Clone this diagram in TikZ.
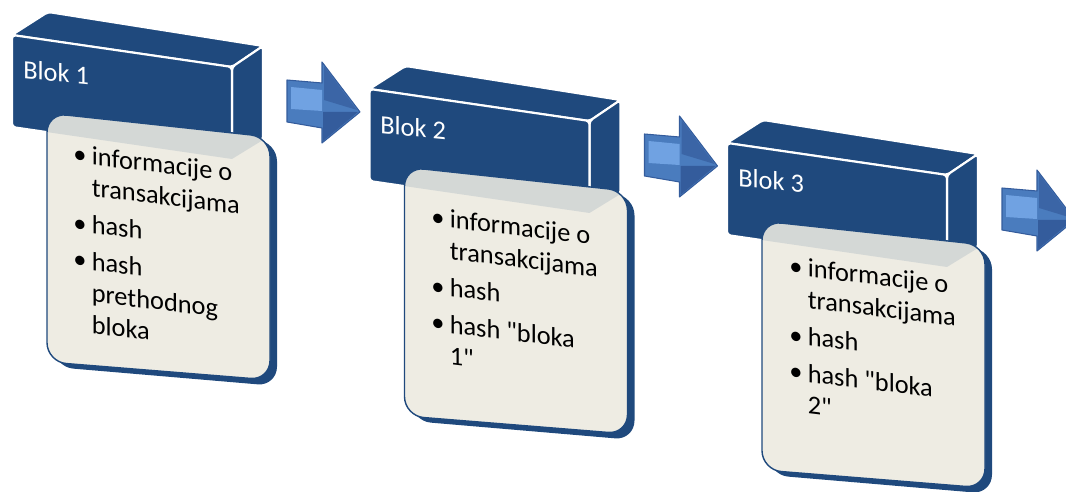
\documentclass[tikz,border=0pt]{standalone}
\usepackage{fontspec}
\setmainfont{Carlito}
\usetikzlibrary{positioning}
\definecolor{blokblue}{RGB}{31,73,125}
\definecolor{cardbg}{RGB}{238,236,227}
\definecolor{arrowmid}{RGB}{74,124,190}
\definecolor{arrowlight}{RGB}{112,162,226}
\definecolor{arrowdark}{RGB}{52,92,156}
\tikzstyle{blokhead} = [fill=blokblue, draw=white, line width=1.2pt, rounded corners=2pt, line join=round]
\tikzstyle{blokside} = [fill=blokblue, rounded corners=11pt]
\tikzstyle{blokcard} = [fill=cardbg, rounded corners=11pt]
\tikzstyle{blokedge} = [draw=blokblue, line width=0.8pt, rounded corners=11pt]
\tikzstyle{bloktitle} = [text=white, font=\fontsize{15}{18}\selectfont, yslant=-0.1, anchor=base west, inner sep=0pt]
\tikzstyle{bloktext} = [text=black, font=\fontsize{15}{18}\selectfont, yslant=-0.12, anchor=north west, align=left, inner sep=0pt]
\tikzstyle{strelica} = [fill=arrowmid, draw=arrowdark, line width=0.6pt, line join=round]
\newcommand{\stavka}{\makebox[10.5pt][l]{\textbullet}}
\newcommand{\nastavak}{\hspace*{10.5pt}}

\begin{document}
\begin{tikzpicture}[x=0.02cm, y=-0.02cm]
\useasboundingbox (0,0) rectangle (1066,492);
\clip (0,0) rectangle (1066,492);

% strelice izmedju blokova
\foreach \i in {0,1,2} {
\begin{scope}[shift={({357.5*\i},{54*\i})}]
\draw [strelica] (287,80) -- (322,83) -- (322,62) -- (360,112) -- (322,143) -- (322,128) -- (287,122) -- cycle;
\fill [arrowlight] (291,87) -- (322,90) -- (322,111) -- (291,109) -- cycle;
\fill [arrowdark] (323,112) -- (358,112) -- (323,141) -- cycle;
\fill [arrowdark!70!arrowmid] (324,66) -- (357,110) -- (324,100) -- cycle;
\end{scope}
}

% blokovi
\foreach \i in {0,1,2} {
\begin{scope}[shift={({357.5*\i},{54*\i})}]
\draw [blokhead] (12,35) -- (48,12) -- (263,46) -- (232,67) -- cycle;
\draw [blokhead] (232,67) -- (263,46) -- (263,140) -- (232,159) -- cycle;
\draw [blokhead] (12,35) -- (232,67) -- (232,159) -- (12,127) -- cycle;
\fill [blokside] (54,118) -- (277,142) -- (277,386) -- (54,367) -- cycle;
\fill [blokcard] (47,113) -- (270,137) -- (270,380) -- (47,362) -- cycle;
\begin{scope}
\clip [rounded corners=11pt] (47,113) -- (270,137) -- (270,380) -- (47,362) -- cycle;
\fill [blokblue, opacity=0.12] (12,35) -- (232,67) -- (263,46) -- (263,140) -- (232,159) -- (12,127) -- cycle;
\end{scope}
\draw [blokedge] (47,113) -- (270,137) -- (270,380) -- (47,362) -- cycle;
\end{scope}
}

\node (naslov1) [bloktitle] at (23,78) {Blok 1};
\node (naslov2) [bloktitle] at (380,133) {Blok 2};
\node (naslov3) [bloktitle] at (738,186) {Blok 3};

\node (sadrzaj1) [bloktext] at (73,144) {\stavka informacije o\\
\nastavak transakcijama\\[3pt]
\stavka hash\\[3pt]
\stavka hash\\
\nastavak prethodnog\\
\nastavak bloka};
\node (sadrzaj2) [bloktext] at (431,207) {\stavka informacije o\\
\nastavak transakcijama\\[3pt]
\stavka hash\\[3pt]
\stavka hash \textquotedbl bloka\\
\nastavak 1\textquotedbl};
\node (sadrzaj3) [bloktext] at (789,256) {\stavka informacije o\\
\nastavak transakcijama\\[3pt]
\stavka hash\\[3pt]
\stavka hash \textquotedbl bloka\\
\nastavak 2\textquotedbl};
\end{tikzpicture}
\end{document}
